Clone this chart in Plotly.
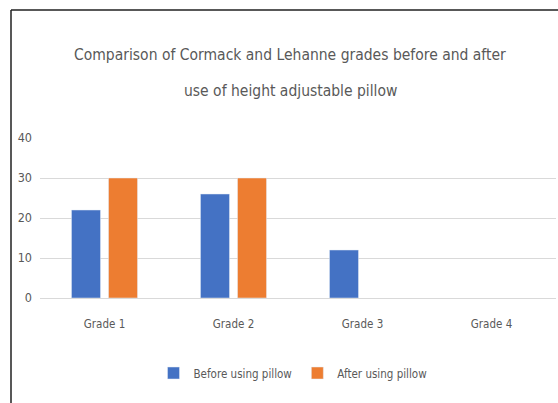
import plotly.graph_objects as go

categories = ["Grade 1", "Grade 2", "Grade 3", "Grade 4"]
before_values = [22, 26, 12, None]
after_values = [30, 30, None, None]
y_ticks = [0, 10, 20, 30, 40]

FONT = "DejaVu Sans Condensed"
TXT = "#595959"

W, H = 558, 403
L, R, T, B = 40, 2, 138, 105
pw, ph = W - L - R, H - T - B

def px_x(px):
    return (px - L) / pw

def px_y(py):
    return (H - B - py) / ph

fig = go.Figure()
fig.add_trace(go.Bar(x=categories, y=before_values, name="Before using pillow",
                     marker_color="#4472C4"))
fig.add_trace(go.Bar(x=categories, y=after_values, name="After using pillow",
                     marker_color="#ED7D31"))

fig.update_layout(
    width=W, height=H,
    margin=dict(l=L, r=R, t=T, b=B, pad=0),
    paper_bgcolor="white", plot_bgcolor="white",
    barmode="group", bargap=0.426, bargroupgap=0.216,
    font=dict(family=FONT, color=TXT, size=12),
    showlegend=True,
    legend=dict(orientation="h", x=px_x(293), y=px_y(373), xanchor="center", yanchor="middle",
                font=dict(size=11.5, color=TXT), itemwidth=30, traceorder="normal"),
    xaxis=dict(showgrid=False, showline=False, zeroline=False, ticks="",
               ticklabelstandoff=17, tickfont=dict(size=11.5, color=TXT)),
    yaxis=dict(range=[0, 40], tickvals=y_ticks, showgrid=True, gridcolor="#D9D9D9",
               gridwidth=1, zeroline=True, zerolinecolor="#D9D9D9", zerolinewidth=1,
               showline=False, ticks="", ticklabelstandoff=7, tickfont=dict(size=12.5, color=TXT)),
)

fig.add_annotation(text="Comparison of Cormack and Lehanne grades before and after",
                   xref="paper", yref="paper", x=px_x(290), y=px_y(55), xanchor="center",
                   yanchor="middle", showarrow=False, font=dict(family=FONT, size=15.5, color=TXT))
fig.add_annotation(text="use of height adjustable pillow",
                   xref="paper", yref="paper", x=px_x(290), y=px_y(91), xanchor="center",
                   yanchor="middle", showarrow=False, font=dict(family=FONT, size=15.5, color=TXT))

fig.add_shape(type="line", xref="paper", yref="paper", x0=px_x(11), x1=px_x(560),
              y0=px_y(10), y1=px_y(10), line=dict(color="#202020", width=1.5))
fig.add_shape(type="line", xref="paper", yref="paper", x0=px_x(11), x1=px_x(11),
              y0=px_y(10), y1=px_y(405), line=dict(color="#202020", width=1.5))

fig.write_html("out.html", config={"displayModeBar": False},
               post_script="document.body.style.margin='0';")
